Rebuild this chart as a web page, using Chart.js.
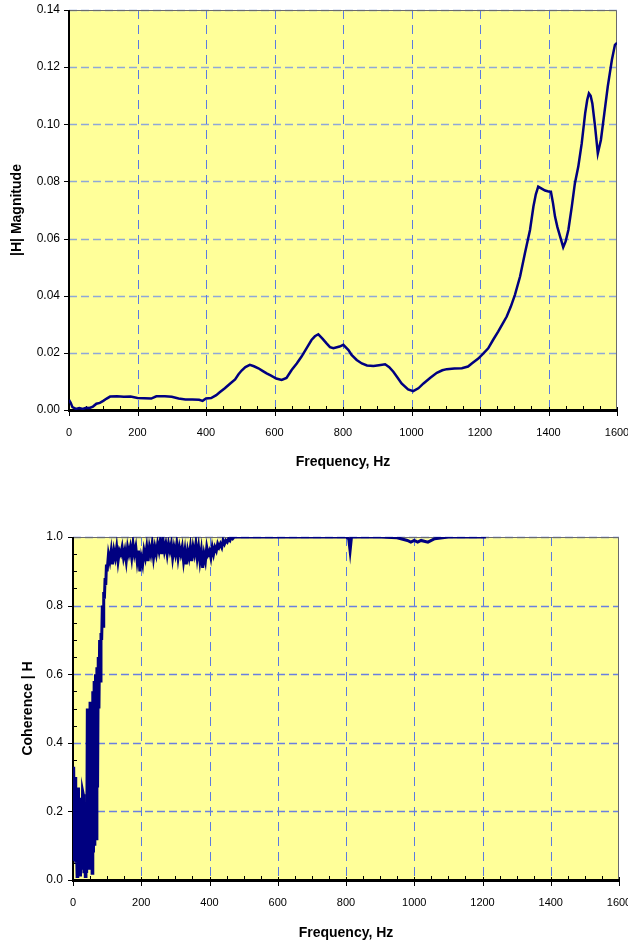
<!DOCTYPE html>
<html><head><meta charset="utf-8">
<script src="https://cdn.jsdelivr.net/npm/chart.js@4.4.0/dist/chart.umd.min.js"></script>
<style>
html,body{margin:0;padding:0;background:#fff;}
canvas{position:absolute;left:0;}
#c1{top:0;}
#c2{top:471px;}
</style></head><body>
<canvas id="c1" width="628" height="471"></canvas>
<canvas id="c2" width="628" height="471"></canvas>
<script>
// ---- tick labels ----
const xTicks = [0, 200, 400, 600, 800, 1000, 1200, 1400, 1600];
const magTicks = [0, 0.02, 0.04, 0.06, 0.08, 0.10, 0.12, 0.14];
const cohTicks = [0, 0.2, 0.4, 0.6, 0.8, 1.0];

// ---- |H| magnitude series ----
const magFreq = [0,5,10,20,30,40,50,60,70,80,90,100,110,120,140,160,180,200,220,240,255,280,300,320,340,360,380,390,400,415,430,440,455,470,485,495,504,515,528,540,553,565,577,590,605,621,635,650,665,679,693,708,718,728,740,752,762,772,790,801,816,825,840,855,870,889,905,923,935,947,960,971,990,1005,1020,1035,1055,1074,1090,1103,1125,1147,1165,1176,1195,1210,1224,1238,1253,1265,1278,1290,1302,1317,1331,1346,1356,1363,1370,1380,1390,1400,1407,1413,1419,1426,1434,1443,1450,1458,1468,1477,1487,1497,1507,1513,1518,1523,1528,1536,1544,1553,1563,1573,1585,1594,1600];
const magVal  = [0.0035,0.0025,0.0010,0.0004,0.0007,0.0004,0.0008,0.0007,0.0012,0.0022,0.0025,0.0032,0.0040,0.0047,0.0048,0.0046,0.0047,0.0042,0.0041,0.0040,0.0048,0.0048,0.0046,0.0040,0.0037,0.0037,0.0036,0.0032,0.0040,0.0042,0.0052,0.0062,0.0076,0.0092,0.0107,0.0125,0.0138,0.0150,0.0158,0.0153,0.0146,0.0137,0.0128,0.0120,0.0110,0.0105,0.0112,0.0140,0.0163,0.0187,0.0215,0.0245,0.0258,0.0265,0.0250,0.0233,0.0220,0.0216,0.0222,0.0228,0.0210,0.0193,0.0175,0.0163,0.0156,0.0154,0.0157,0.0160,0.0150,0.0134,0.0112,0.0093,0.0072,0.0066,0.0076,0.0093,0.0113,0.0130,0.0139,0.0143,0.0145,0.0146,0.0152,0.0163,0.0180,0.0198,0.0216,0.0245,0.0274,0.0300,0.0327,0.0362,0.0403,0.0467,0.0548,0.0630,0.0712,0.0755,0.0782,0.0775,0.0768,0.0765,0.0764,0.0725,0.0677,0.0640,0.0607,0.0570,0.0590,0.0630,0.0712,0.0793,0.0852,0.0933,0.1038,0.1085,0.1108,0.1100,0.1073,0.0992,0.0898,0.0945,0.1038,0.1132,0.1225,0.1278,0.1285];

// ---- Coherence series ----
const cohFreq = [0,2,4,6,8,10,12,14,16,18,20,22,24,26,28,30,32,34,36,38,40,42,44,46,48,50,52,54,56,58,60,62,64,66,68,70,72,74,76,78,80,82,84,86,88,90,92,94,96,98,
100,104,108,112,116,120,124,128,132,136,140,144,148,152,156,160,164,168,172,176,180,184,188,192,196,200,204,208,212,216,220,224,228,232,236,240,244,248,252,256,260,264,268,272,276,280,284,288,292,296,300,304,308,312,316,320,324,328,332,336,340,344,348,352,356,360,364,368,372,376,380,384,388,392,396,400,404,408,412,416,420,424,428,432,436,440,444,448,452,456,460,464,468,472,480,
520,600,700,800,808,812,816,900,950,980,990,1000,1010,1020,1040,1060,1100,1150,1210];
const cohVal = [0.06,0.33,0.10,0.30,0.05,0.12,0.01,0.08,0.27,0.04,0.20,0.01,0.24,0.03,0.26,0.25,0.02,0.14,0.01,0.12,0.02,0.50,0.05,0.48,0.03,0.52,0.06,0.50,0.02,0.55,0.08,0.58,0.10,0.60,0.12,0.62,0.27,0.65,0.50,0.70,0.58,0.72,0.70,0.80,0.74,0.84,0.82,0.88,0.86,0.92,
0.90,0.95,0.93,0.96,0.92,0.96,0.94,0.97,0.93,0.96,0.95,0.97,0.94,0.96,0.93,0.97,0.95,0.97,0.94,0.98,0.95,0.97,0.93,0.96,0.90,0.94,0.92,0.96,0.94,0.97,0.93,0.97,0.95,0.98,0.94,0.97,0.95,0.98,0.96,0.99,0.95,0.99,0.96,0.98,0.95,0.98,0.96,0.98,0.94,0.97,0.95,0.98,0.94,0.97,0.95,0.97,0.93,0.96,0.92,0.96,0.94,0.97,0.93,0.97,0.95,0.98,0.94,0.97,0.93,0.96,0.91,0.95,0.93,0.97,0.95,0.96,0.94,0.97,0.95,0.97,0.96,0.98,0.97,0.98,0.97,0.99,0.98,0.99,0.985,0.995,0.99,1.0,0.995,1.0,1.0,
1.0,1.0,1.0,1.0,0.995,0.96,1.0,1.0,0.998,0.99,0.985,0.99,0.985,0.99,0.985,0.995,1.0,1.0,1.0];

Chart.defaults.font.family = '"Liberation Sans", Arial, sans-serif';
Chart.defaults.font.size = 11;
Chart.defaults.color = '#000';

const framePlugin = {
  id: 'frame',
  beforeDraw(chart) {
    const {ctx, chartArea: a} = chart;
    ctx.save();
    ctx.fillStyle = '#FFFF99';
    ctx.fillRect(a.left, a.top, a.right - a.left, a.bottom - a.top);
    ctx.restore();
  },
  beforeDatasetsDraw(chart, args, o) {
    const {ctx, chartArea: a, scales} = chart;
    const xs = scales.x, ys = scales.y;
    ctx.save();
    // horizontal grid
    ctx.strokeStyle = o.hColor; ctx.lineWidth = o.hWidth; ctx.setLineDash(o.hDash);
    o.yTicks.forEach(v => {
      if (v === o.yTicks[0]) return;
      const y = Math.round(ys.getPixelForValue(v)) + 0.5;
      ctx.beginPath(); ctx.moveTo(a.left, y); ctx.lineTo(a.right, y); ctx.stroke();
    });
    // vertical grid
    ctx.strokeStyle = o.vColor; ctx.lineWidth = 1; ctx.setLineDash(o.vDash);
    o.xTicks.forEach((v, i) => {
      if (i === 0 || i === o.xTicks.length - 1) return;
      const x = Math.round(xs.getPixelForValue(v)) + 0.5;
      ctx.beginPath(); ctx.moveTo(x, a.top); ctx.lineTo(x, a.bottom); ctx.stroke();
    });
    ctx.setLineDash([]);
    // frame (top/right)
    ctx.strokeStyle = '#6b6b6b'; ctx.lineWidth = 1;
    ctx.beginPath();
    ctx.moveTo(a.left, a.top + 0.5); ctx.lineTo(a.right - 0.5, a.top + 0.5); ctx.lineTo(a.right - 0.5, a.bottom);
    ctx.stroke();
    // axes
    ctx.strokeStyle = '#000';
    ctx.lineWidth = 2;
    ctx.beginPath(); ctx.moveTo(a.left, a.top); ctx.lineTo(a.left, a.bottom + 1); ctx.stroke();
    ctx.lineWidth = 3;
    ctx.beginPath(); ctx.moveTo(a.left - 1, a.bottom + 0.5); ctx.lineTo(a.right, a.bottom + 0.5); ctx.stroke();
    // x ticks
    ctx.lineWidth = 1;
    for (let f = xs.min; f <= xs.max; f += o.xMinor) {
      const x = Math.round(xs.getPixelForValue(f)) + 0.5;
      const major = o.xTicks.includes(f);
      ctx.beginPath();
      if (major) { ctx.moveTo(x, a.bottom - 3); ctx.lineTo(x, a.bottom + 6); }
      else { ctx.moveTo(x, a.bottom - 4); ctx.lineTo(x, a.bottom); }
      ctx.stroke();
    }
    // y ticks
    o.yTicks.forEach(v => {
      const y = Math.round(ys.getPixelForValue(v)) + 0.5;
      ctx.beginPath(); ctx.moveTo(a.left - 5, y); ctx.lineTo(a.left, y); ctx.stroke();
    });
    if (o.yMinor) {
      for (let k = 1; k * o.yMinor < ys.max - 1e-9; k++) {
        const v = k * o.yMinor;
        if (o.yTicks.some(t => Math.abs(t - v) < 1e-9)) continue;
        const y = Math.round(ys.getPixelForValue(v)) + 0.5;
        ctx.beginPath(); ctx.moveTo(a.left, y); ctx.lineTo(a.left + 4, y); ctx.stroke();
      }
    }
    ctx.restore();
  }
};

function makeChart(id, cfg) {
  const data = cfg.freq.map((f, i) => ({x: f, y: cfg.vals[i]}));
  return new Chart(document.getElementById(id), {
    type: 'line',
    data: { datasets: [{ data, borderColor: '#000080', borderWidth: cfg.lw, pointRadius: 0, tension: 0, fill: false, borderJoinStyle: 'miter' }] },
    plugins: [framePlugin],
    options: {
      responsive: false, animation: false, events: [],
      layout: { padding: { left: 0, right: cfg.rightPad, top: cfg.topPad, bottom: 0 } },
      plugins: {
        legend: { display: false }, tooltip: { enabled: false },
        frame: { xTicks, yTicks: cfg.yTicks, xMinor: 50, yMinor: cfg.yMinor, hColor: cfg.hColor, hWidth: cfg.hWidth, hDash: [8, 4], vColor: '#5b7be0', vDash: [9, 6] }
      },
      scales: {
        x: {
          type: 'linear', position: 'bottom', min: 0, max: 1600,
          afterBuildTicks: s => { s.ticks = xTicks.map(v => ({value: v})); },
          afterFit: s => { s.height = cfg.xHeight; s.paddingLeft = 0; s.paddingRight = 0; },
          grid: { display: false, drawTicks: false, tickLength: 0 },
          border: { display: false },
          ticks: { autoSkip: false, maxRotation: 0, padding: 16, color: '#000', font: { size: 11 }, callback: v => String(v) },
          title: { display: true, text: 'Frequency, Hz', font: { weight: 'bold', size: 14 }, padding: { top: 0, bottom: 0 }, color: '#000' }
        },
        y: {
          type: 'linear', position: 'left', min: 0, max: cfg.yMax,
          afterBuildTicks: s => { s.ticks = cfg.yTicks.map(v => ({value: v})); },
          afterFit: s => { s.width = cfg.yWidth; s.paddingTop = 0; s.paddingBottom = 0; },
          grid: { display: false, drawTicks: false, tickLength: 0 },
          border: { display: false },
          ticks: { autoSkip: false, padding: cfg.yLabPad, color: '#000', font: { size: 12 }, callback: v => Number(v).toFixed(cfg.dec) },
          title: { display: true, text: cfg.yTitle, font: { weight: 'bold', size: 14 }, padding: { top: cfg.yTitlePad, bottom: 0 }, color: '#000' }
        }
      }
    }
  });
}

makeChart('c1', { freq: magFreq, vals: magVal, yTicks: magTicks, yMax: 0.14, dec: 2, yTitle: '|H| Magnitude',
  yTitlePad: 9, yWidth: 69, yLabPad: 9, rightPad: 11, topPad: 10, xHeight: 61, lw: 2.5,
  hColor: '#8fa8d8', hWidth: 1.6, yMinor: null });
makeChart('c2', { freq: cohFreq, vals: cohVal, yTicks: cohTicks, yMax: 1.0, dec: 1, yTitle: 'Coherence | H',
  yTitlePad: 20, yWidth: 73, yLabPad: 10, rightPad: 9, topPad: 66, xHeight: 62, lw: 3,
  hColor: '#6a80e0', hWidth: 1.4, yMinor: 0.05 });
</script>
</body></html>
